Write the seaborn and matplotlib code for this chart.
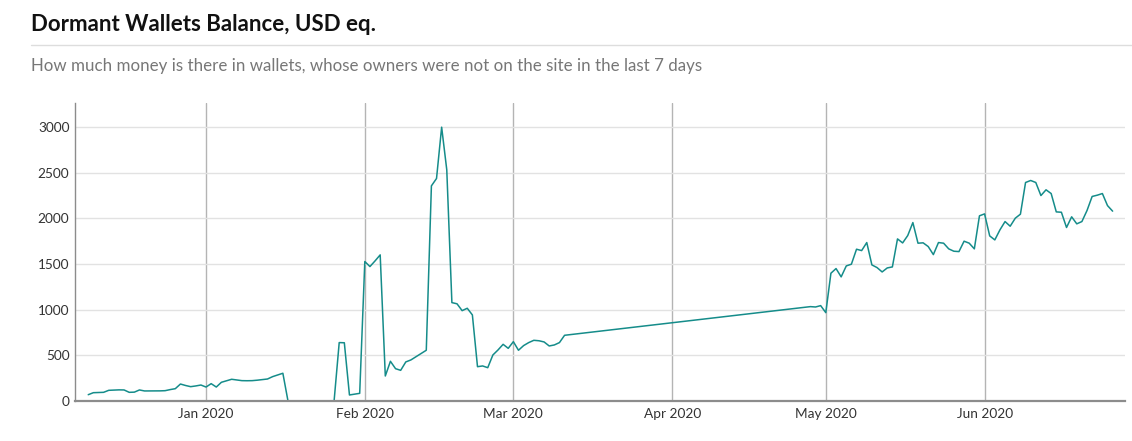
import matplotlib
matplotlib.use("Agg")
import matplotlib.pyplot as plt
import matplotlib.dates as mdates
from matplotlib.lines import Line2D
import seaborn as sns
import pandas as pd

# ---- data ----
dates = [
    "2019-12-09", "2019-12-10", "2019-12-11", "2019-12-12", "2019-12-13", "2019-12-14",
    "2019-12-15", "2019-12-16", "2019-12-17", "2019-12-18", "2019-12-19", "2019-12-20",
    "2019-12-21", "2019-12-22", "2019-12-23", "2019-12-24", "2019-12-25", "2019-12-26",
    "2019-12-27", "2019-12-28", "2019-12-29", "2019-12-30", "2019-12-31",
    "2020-01-01", "2020-01-02", "2020-01-03", "2020-01-04", "2020-01-05", "2020-01-06",
    "2020-01-07", "2020-01-08", "2020-01-09", "2020-01-10", "2020-01-11", "2020-01-12",
    "2020-01-13", "2020-01-14", "2020-01-15", "2020-01-16", "2020-01-17", "2020-01-18",
    "2020-01-19", "2020-01-20", "2020-01-21", "2020-01-22", "2020-01-23", "2020-01-24",
    "2020-01-25", "2020-01-26", "2020-01-27", "2020-01-28", "2020-01-29", "2020-01-30",
    "2020-01-31",
    "2020-02-01", "2020-02-02", "2020-02-03", "2020-02-04", "2020-02-05", "2020-02-06",
    "2020-02-07", "2020-02-08", "2020-02-09", "2020-02-10", "2020-02-11", "2020-02-12",
    "2020-02-13", "2020-02-14", "2020-02-15", "2020-02-16", "2020-02-17", "2020-02-18",
    "2020-02-19", "2020-02-20", "2020-02-21", "2020-02-22", "2020-02-23", "2020-02-24",
    "2020-02-25", "2020-02-26", "2020-02-27", "2020-02-28", "2020-02-29",
    "2020-03-01", "2020-03-02", "2020-03-03", "2020-03-04", "2020-03-05", "2020-03-06",
    "2020-03-07", "2020-03-08", "2020-03-09", "2020-03-10", "2020-03-11",
    "2020-04-28", "2020-04-29", "2020-04-30",
    "2020-05-01", "2020-05-02", "2020-05-03", "2020-05-04", "2020-05-05", "2020-05-06",
    "2020-05-07", "2020-05-08", "2020-05-09", "2020-05-10", "2020-05-11", "2020-05-12",
    "2020-05-13", "2020-05-14", "2020-05-15", "2020-05-16", "2020-05-17", "2020-05-18",
    "2020-05-19", "2020-05-20", "2020-05-21", "2020-05-22", "2020-05-23", "2020-05-24",
    "2020-05-25", "2020-05-26", "2020-05-27", "2020-05-28", "2020-05-29", "2020-05-30",
    "2020-05-31",
    "2020-06-01", "2020-06-02", "2020-06-03", "2020-06-04", "2020-06-05", "2020-06-06",
    "2020-06-07", "2020-06-08", "2020-06-09", "2020-06-10", "2020-06-11", "2020-06-12",
    "2020-06-13", "2020-06-14", "2020-06-15", "2020-06-16", "2020-06-17", "2020-06-18",
    "2020-06-19", "2020-06-20", "2020-06-21", "2020-06-22", "2020-06-23", "2020-06-24",
    "2020-06-25", "2020-06-26",
]
balance_usd = [
    69, 91, 93, 95, 117, 120,
    122, 121, 95, 97, 121, 110,
    110, 110, 111, 113, 125, 135,
    186, 170, 157, 165, 175,
    153, 190, 153, 205, 222, 238,
    230, 223, 222, 223, 228, 235,
    241, 267, 285, 304, 0, 0,
    0, 0, 0, 0, 0, 0,
    0, 0, 640, 638, 66, 75,
    84,
    1528, 1473, 1535, 1601, 274, 435,
    354, 336, 428, 450, 485, 520,
    556, 2357, 2438, 3000, 2533, 1078,
    1065, 990, 1016, 943, 376, 384,
    365, 504, 559, 621, 577,
    650, 556, 607, 640, 665, 660,
    647, 603, 614, 640, 720,
    1034, 1030, 1045,
    968, 1400, 1451, 1360, 1480, 1499,
    1663, 1648, 1736, 1491, 1462, 1414,
    1458, 1469, 1776, 1732, 1813, 1955,
    1729, 1733, 1692, 1604, 1736, 1729,
    1667, 1641, 1637, 1751, 1729, 1667,
    2029,
    2050, 1809, 1765, 1875, 1966, 1915,
    2003, 2047, 2394, 2416, 2394, 2251,
    2314, 2273, 2072, 2068, 1901, 2018,
    1941, 1966, 2087, 2241, 2255, 2273,
    2141, 2080,
]
y_ticks = [0, 500, 1000, 1500, 2000, 2500, 3000]
title_text = "Dormant Wallets Balance, USD eq."
subtitle_text = "How much money is there in wallets, whose owners were not on the site in the last 7 days"

df = pd.DataFrame({"date": pd.to_datetime(dates), "balance": balance_usd})

sns.set_theme(style="white")
plt.rcParams["font.family"] = ["Lato", "DejaVu Sans"]

fig = plt.figure(figsize=(11.32, 4.41), dpi=100)
ax = fig.add_axes([75 / 1132, 40 / 441, 1050 / 1132, 298 / 441])

sns.lineplot(data=df, x="date", y="balance", ax=ax, color="#158c8a", linewidth=1.1)

ax.set_xlim(pd.Timestamp("2019-12-06 10:00"), pd.Timestamp("2020-06-28 10:00"))
ax.set_ylim(0, 3265)
ax.set_yticks(y_ticks)
ax.set_yticklabels([str(v) for v in y_ticks])
ax.xaxis.set_major_locator(mdates.MonthLocator(bymonth=[1, 2, 3, 4, 5, 6]))
ax.xaxis.set_major_formatter(mdates.DateFormatter("%b %Y"))
ax.set_xlabel("")
ax.set_ylabel("")

ax.grid(axis="y", color="#e2e2e2", linewidth=1.0)
ax.grid(axis="x", color="#b4b4b4", linewidth=1.0)
ax.set_axisbelow(True)

for side in ["top", "right"]:
    ax.spines[side].set_visible(False)
ax.spines["left"].set_color("#8c8c8c")
ax.spines["left"].set_linewidth(1.0)
ax.spines["bottom"].set_color("#8c8c8c")
ax.spines["bottom"].set_linewidth(1.6)

ax.tick_params(axis="both", length=0, labelsize=9.8, labelcolor="#333333")
ax.tick_params(axis="y", pad=4)
ax.tick_params(axis="x", pad=5)

fig.text(31 / 1132, 1 - 31 / 441, title_text, fontsize=16, fontweight="bold",
         color="#111111", va="baseline", ha="left")
fig.add_artist(Line2D([31 / 1132, 1.0], [1 - 45 / 441, 1 - 45 / 441],
                      color="#dddddd", linewidth=1.0, transform=fig.transFigure))
fig.text(31 / 1132, 1 - 71 / 441, subtitle_text, fontsize=12.2,
         color="#777777", va="baseline", ha="left")

fig.savefig("out.png", dpi=100, facecolor="white")
